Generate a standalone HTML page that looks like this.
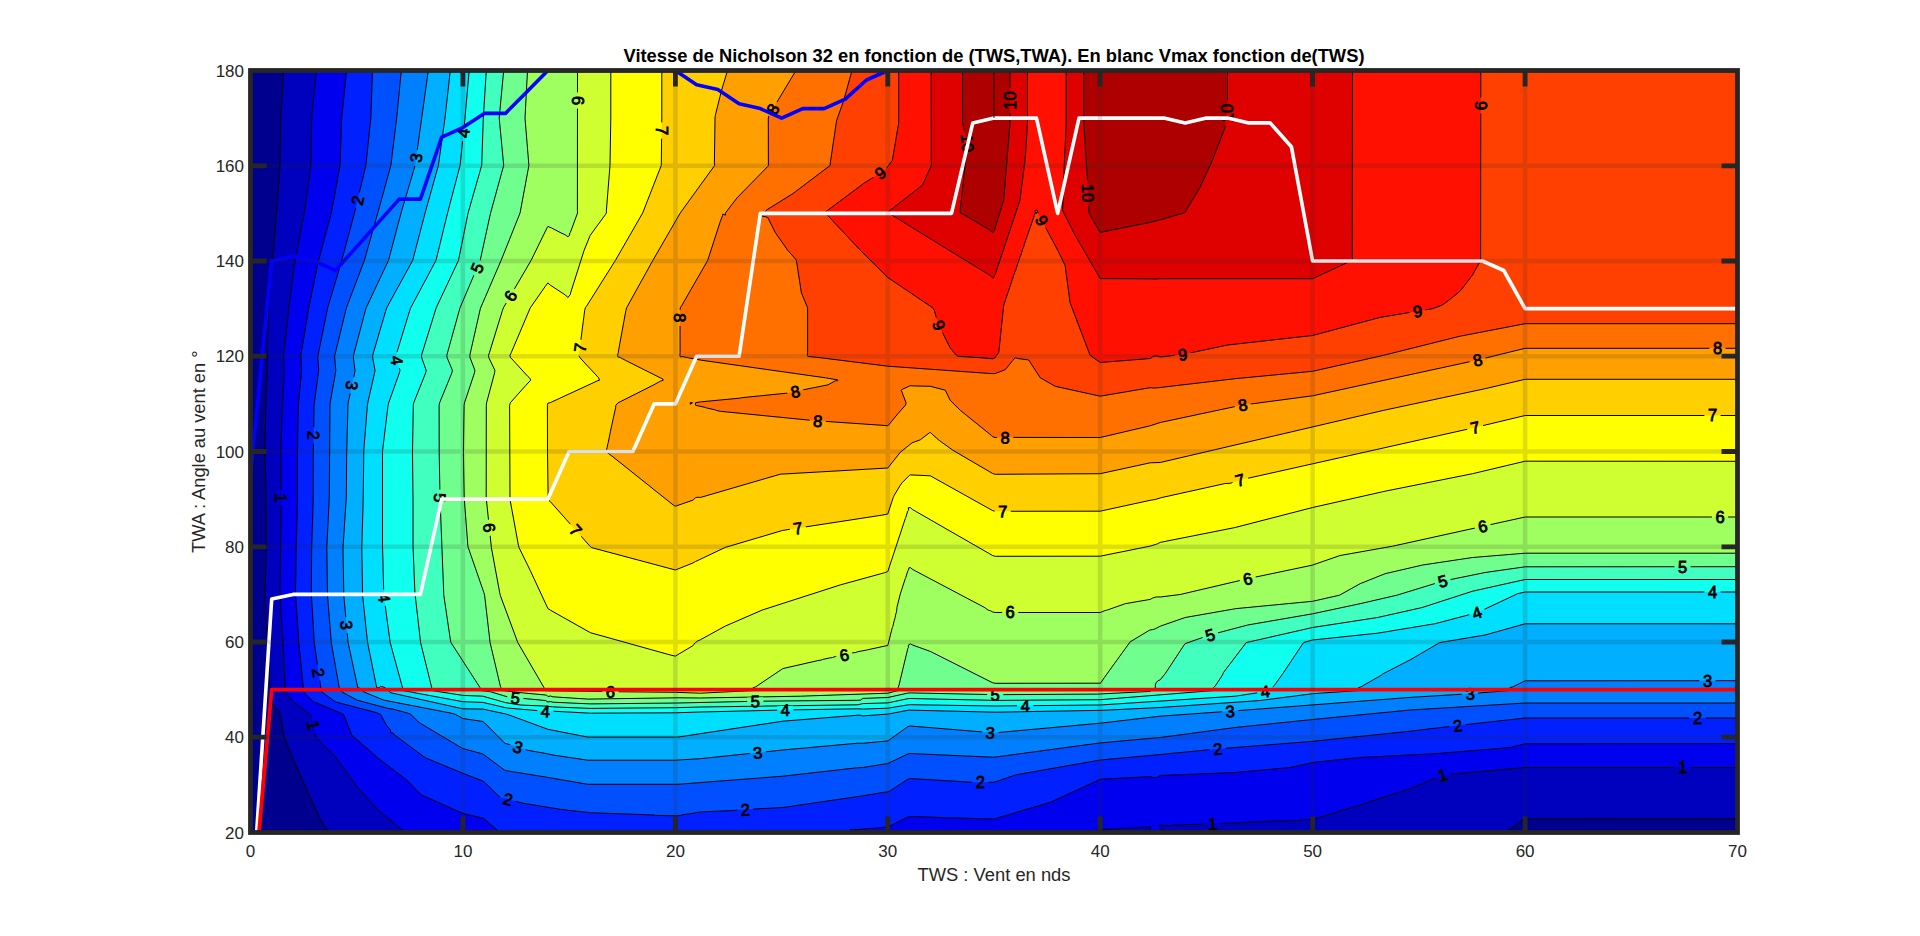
<!DOCTYPE html>
<html><head><meta charset="utf-8"><title>Vitesse de Nicholson 32</title>
<style>html,body{margin:0;padding:0;background:#fff;overflow:hidden}body{width:1920px;height:936px;position:relative}</style></head>
<body>
<svg width="1920" height="936" viewBox="0 0 1920 936" style="position:absolute;left:0;top:0">
<defs><clipPath id="c"><rect x="250.5" y="70.5" width="1487.0" height="762.0"/></clipPath></defs>
<mask id="lm" maskUnits="userSpaceOnUse" x="0" y="0" width="1920" height="936"><rect x="0" y="0" width="1920" height="936" fill="#fff"/><rect transform="translate(357.5,200.4) rotate(-76.5)" x="-8.1" y="-4" width="16.2" height="8" fill="#000"/><rect transform="translate(416.1,157.9) rotate(-82)" x="-8.1" y="-4" width="16.2" height="8" fill="#000"/><rect transform="translate(463.4,133) rotate(-84)" x="-8.1" y="-4" width="16.2" height="8" fill="#000"/><rect transform="translate(577.5,100.5) rotate(90)" x="-8.1" y="-4" width="16.2" height="8" fill="#000"/><rect transform="translate(661.6,130.5) rotate(90)" x="-8.1" y="-4" width="16.2" height="8" fill="#000"/><rect transform="translate(477.1,267.9) rotate(-67.2)" x="-8.1" y="-4" width="16.2" height="8" fill="#000"/><rect transform="translate(510.4,295.9) rotate(-59.7)" x="-8.1" y="-4" width="16.2" height="8" fill="#000"/><rect transform="translate(397,360.3) rotate(83.1)" x="-8.1" y="-4" width="16.2" height="8" fill="#000"/><rect transform="translate(352,385.3) rotate(98)" x="-8.1" y="-4" width="16.2" height="8" fill="#000"/><rect transform="translate(313.6,435.3) rotate(91)" x="-8.1" y="-4" width="16.2" height="8" fill="#000"/><rect transform="translate(579.9,347.8) rotate(-82.6)" x="-8.1" y="-4" width="16.2" height="8" fill="#000"/><rect transform="translate(680,317.8) rotate(89.7)" x="-8.1" y="-4" width="16.2" height="8" fill="#000"/><rect transform="translate(281.2,497.7) rotate(89.8)" x="-8.1" y="-4" width="16.2" height="8" fill="#000"/><rect transform="translate(440,497.7) rotate(88.6)" x="-8.1" y="-4" width="16.2" height="8" fill="#000"/><rect transform="translate(489.3,527.7) rotate(84)" x="-8.1" y="-4" width="16.2" height="8" fill="#000"/><rect transform="translate(575.8,530.2) rotate(48.3)" x="-8.1" y="-4" width="16.2" height="8" fill="#000"/><rect transform="translate(384.2,597.7) rotate(84.6)" x="-8.1" y="-4" width="16.2" height="8" fill="#000"/><rect transform="translate(346.5,625.1) rotate(84.9)" x="-8.1" y="-4" width="16.2" height="8" fill="#000"/><rect transform="translate(318.6,672.6) rotate(81.8)" x="-8.1" y="-4" width="16.2" height="8" fill="#000"/><rect transform="translate(313.5,725.1) rotate(79.2)" x="-8.1" y="-4" width="16.2" height="8" fill="#000"/><rect transform="translate(515.4,697.7) rotate(5.2)" x="-8.1" y="-4" width="16.2" height="8" fill="#000"/><rect transform="translate(610.4,691.7) rotate(0.8)" x="-8.1" y="-4" width="16.2" height="8" fill="#000"/><rect transform="translate(545.4,711.3) rotate(3)" x="-8.1" y="-4" width="16.2" height="8" fill="#000"/><rect transform="translate(517.9,747.1) rotate(17.8)" x="-8.1" y="-4" width="16.2" height="8" fill="#000"/><rect transform="translate(507.9,799.2) rotate(14.7)" x="-8.1" y="-4" width="16.2" height="8" fill="#000"/><rect transform="translate(772.8,109.1) rotate(-58.8)" x="-8.1" y="-4" width="16.2" height="8" fill="#000"/><rect transform="translate(880.3,173) rotate(-35.8)" x="-8.1" y="-4" width="16.2" height="8" fill="#000"/><rect transform="translate(1010,100.5) rotate(-90)" x="-12.7" y="-4" width="25.4" height="8" fill="#000"/><rect transform="translate(967.5,143) rotate(84.7)" x="-12.7" y="-4" width="25.4" height="8" fill="#000"/><rect transform="translate(1041.8,220.4) rotate(61.9)" x="-8.1" y="-4" width="16.2" height="8" fill="#000"/><rect transform="translate(1088,192.9) rotate(87.8)" x="-12.7" y="-4" width="25.4" height="8" fill="#000"/><rect transform="translate(938.9,325.3) rotate(67.6)" x="-8.1" y="-4" width="16.2" height="8" fill="#000"/><rect transform="translate(795.3,391.5) rotate(-11.4)" x="-8.1" y="-4" width="16.2" height="8" fill="#000"/><rect transform="translate(817.8,420.9) rotate(4.3)" x="-8.1" y="-4" width="16.2" height="8" fill="#000"/><rect transform="translate(1005.2,437.5) rotate(0.2)" x="-8.1" y="-4" width="16.2" height="8" fill="#000"/><rect transform="translate(797.8,528.1) rotate(-8.8)" x="-8.1" y="-4" width="16.2" height="8" fill="#000"/><rect transform="translate(1002.7,511.2) rotate(-0.3)" x="-8.1" y="-4" width="16.2" height="8" fill="#000"/><rect transform="translate(1010.2,612.5) rotate(0)" x="-8.1" y="-4" width="16.2" height="8" fill="#000"/><rect transform="translate(844.2,655.1) rotate(-11.9)" x="-8.1" y="-4" width="16.2" height="8" fill="#000"/><rect transform="translate(755.3,701.3) rotate(-1)" x="-8.1" y="-4" width="16.2" height="8" fill="#000"/><rect transform="translate(785.3,710) rotate(-1.3)" x="-8.1" y="-4" width="16.2" height="8" fill="#000"/><rect transform="translate(995.2,694.7) rotate(0.5)" x="-8.1" y="-4" width="16.2" height="8" fill="#000"/><rect transform="translate(1025.2,705.7) rotate(-0.5)" x="-8.1" y="-4" width="16.2" height="8" fill="#000"/><rect transform="translate(757.8,752.6) rotate(-6.1)" x="-8.1" y="-4" width="16.2" height="8" fill="#000"/><rect transform="translate(990.3,732.6) rotate(3.8)" x="-8.1" y="-4" width="16.2" height="8" fill="#000"/><rect transform="translate(745.3,809.5) rotate(-3.1)" x="-8.1" y="-4" width="16.2" height="8" fill="#000"/><rect transform="translate(980.3,782.3) rotate(-0)" x="-8.1" y="-4" width="16.2" height="8" fill="#000"/><rect transform="translate(1226.6,113) rotate(-90)" x="-12.7" y="-4" width="25.4" height="8" fill="#000"/><rect transform="translate(1480.8,105.5) rotate(90)" x="-8.1" y="-4" width="16.2" height="8" fill="#000"/><rect transform="translate(1417.6,311.2) rotate(-9.2)" x="-8.1" y="-4" width="16.2" height="8" fill="#000"/><rect transform="translate(1182.7,354.5) rotate(-8.6)" x="-8.1" y="-4" width="16.2" height="8" fill="#000"/><rect transform="translate(1242.7,405) rotate(-10.1)" x="-8.1" y="-4" width="16.2" height="8" fill="#000"/><rect transform="translate(1477.6,360) rotate(-12.9)" x="-8.1" y="-4" width="16.2" height="8" fill="#000"/><rect transform="translate(1475.1,427.5) rotate(-12.9)" x="-8.1" y="-4" width="16.2" height="8" fill="#000"/><rect transform="translate(1240.2,480) rotate(-15.6)" x="-8.1" y="-4" width="16.2" height="8" fill="#000"/><rect transform="translate(1482.6,526.2) rotate(-12.4)" x="-8.1" y="-4" width="16.2" height="8" fill="#000"/><rect transform="translate(1247.7,578.7) rotate(-12.5)" x="-8.1" y="-4" width="16.2" height="8" fill="#000"/><rect transform="translate(1442.6,581.2) rotate(-14.8)" x="-8.1" y="-4" width="16.2" height="8" fill="#000"/><rect transform="translate(1210.2,635) rotate(-17.5)" x="-8.1" y="-4" width="16.2" height="8" fill="#000"/><rect transform="translate(1477,612.6) rotate(-19.2)" x="-8.1" y="-4" width="16.2" height="8" fill="#000"/><rect transform="translate(1265.2,691.6) rotate(-8.5)" x="-8.1" y="-4" width="16.2" height="8" fill="#000"/><rect transform="translate(1470.1,693.7) rotate(-4)" x="-8.1" y="-4" width="16.2" height="8" fill="#000"/><rect transform="translate(1230.2,711.2) rotate(-4.2)" x="-8.1" y="-4" width="16.2" height="8" fill="#000"/><rect transform="translate(1457.6,725.5) rotate(-6.6)" x="-8.1" y="-4" width="16.2" height="8" fill="#000"/><rect transform="translate(1217.7,748.9) rotate(-5.3)" x="-8.1" y="-4" width="16.2" height="8" fill="#000"/><rect transform="translate(1442.6,775) rotate(-16.2)" x="-8.1" y="-4" width="16.2" height="8" fill="#000"/><rect transform="translate(1212.7,823.7) rotate(-2.1)" x="-8.1" y="-4" width="16.2" height="8" fill="#000"/><rect transform="translate(1717.5,348.3) rotate(0)" x="-8.1" y="-4" width="16.2" height="8" fill="#000"/><rect transform="translate(1712.5,415.5) rotate(0)" x="-8.1" y="-4" width="16.2" height="8" fill="#000"/><rect transform="translate(1720,517) rotate(0)" x="-8.1" y="-4" width="16.2" height="8" fill="#000"/><rect transform="translate(1682.5,566.7) rotate(0)" x="-8.1" y="-4" width="16.2" height="8" fill="#000"/><rect transform="translate(1712.5,592) rotate(0)" x="-8.1" y="-4" width="16.2" height="8" fill="#000"/><rect transform="translate(1707.5,680.7) rotate(0)" x="-8.1" y="-4" width="16.2" height="8" fill="#000"/><rect transform="translate(1697.5,718) rotate(0)" x="-8.1" y="-4" width="16.2" height="8" fill="#000"/><rect transform="translate(1682.5,767.5) rotate(0)" x="-8.1" y="-4" width="16.2" height="8" fill="#000"/></mask>
<g clip-path="url(#c)">
<rect x="250.5" y="70.5" width="1487.0" height="762.0" fill="#00008F"/>
<path d="M283.7,70.5 1737.5,70.5 1737.5,818.7 1525.1,818.8 1523,820 1505,832.5 328.3,832.5 328,831.6 319.6,817.5 310.3,797.5 294.7,762.5 284.5,737.6 283.9,735.1 280.3,715.1 279.6,712.6 272.2,702.6 271.5,700.1 270.9,692.6 270,687.6 265,595.2 266.3,545.2 266.3,500.2 265,450.3 265.8,405.3 267.2,370.3 267.2,355.3 268.7,307.8 272.6,260.4 276.7,212.9 280,165.4 280.8,118 283.7,70.5Z" fill="#0000BF" fill-rule="evenodd"/>
<path d="M316.3,70.5 1737.5,70.5 1737.5,767.5 1525.1,767.5 1442.6,775 1410.1,788.7 1405.8,790 1405.1,790.4 1398.1,792.5 1390.6,795 1390.1,795.4 1387.6,796 1360.1,805 1312.6,819.5 1300.8,820 1300.1,820.4 1270.2,821.3 1240.5,822.5 1240.2,822.8 1237.7,822.9 1174.4,825 1172.7,825.6 1165.2,825.5 1162.7,825.8 1160.2,825 1159.9,827.5 1160.2,828.6 1162.4,830 1162.7,830.8 1163.9,832.5 1148.2,832.5 1149.7,830 1150.2,829.8 1150.9,827.5 1150.2,827.1 1140.4,827.5 1140.2,827.7 1137.7,827.9 1125.2,828.3 1100.2,829.6 1100,830 1100.2,830.7 1103.7,832.5 404.9,832.5 402.9,830.6 378.4,810 357.5,787.5 336,757.5 316.6,737.6 315.5,735.2 312.1,717.6 310.9,715.1 293,701.3 285.5,692.5 284.7,690.1 285.4,687.6 283,642.6 280,592.7 281.2,500.2 280.9,450.3 282.4,405.3 284.1,372.8 283.7,355.3 288.8,307.8 294.7,262.9 304.4,212.9 310.9,165.4 311.7,118 316.3,70.5Z" fill="#0000EF" fill-rule="evenodd"/>
<path d="M346.6,70.5 1737.5,70.5 1737.5,743.7 1525.1,743.8 1510.1,747.5 1479.4,750.1 1435.1,753.7 1359.4,757.5 1312.5,762.5 1290.2,767.5 1235.2,772.5 1160.2,775.5 1157.7,777 1155.2,777.5 1152.7,777.4 1150.2,776.6 1100.2,779.3 1050.2,802.4 1015.8,812.5 1015.2,812.9 998.6,817.5 997.7,818 995.2,818.7 992.8,819 957.8,818 945.3,817.9 942.6,817.5 910.3,816.5 906.7,817.5 887.8,827 881.1,827.5 880.3,827.9 877.8,827.9 852.8,829.9 850.3,829.8 850.1,830 850.3,830.4 852.8,830.8 854.7,832.5 499.9,832.5 485.5,820 482.9,818 480.4,817.8 480,817.5 462.9,813.4 422.9,795.6 421.8,795 420.4,793.9 406.7,780 378,758 351.8,735.1 343.8,715.1 343,713.9 340.5,713.1 339.7,712.6 313,701.4 304.1,692.6 302.9,690.1 303.3,687.6 298.8,642.6 295.5,592.7 296.2,547.7 297.5,500.2 297.5,452.7 298.3,405.3 301.7,370.3 300.9,357.8 300.9,355.3 308.8,307.8 318,262.7 331.4,212.9 340,165.4 341.7,118 346.6,70.5Z" fill="#0020FF" fill-rule="evenodd"/>
<path d="M372.5,70.5 1737.5,70.5 1737.5,718 1525.1,718 1457.6,725.5 1410.1,731.2 1312.6,741.3 1217.7,748.9 1160.2,754.5 1100.2,760 1017.7,774.5 1015.3,775 995.2,781.9 992.8,782.3 972.8,782.3 910.3,778.5 907.8,779.2 890.3,790.7 887.8,792 885.3,792.1 860.3,796.2 782.8,807.5 736.3,810 735.3,810.4 700.3,812 696.4,812.5 695.4,812.9 681.5,815 680.4,815.4 677.9,815.8 655.4,815.4 654.6,815 592.9,812.8 590.4,812.9 589.6,812.5 567.9,810.3 567.3,810 560.4,809.3 522.9,803.2 500.4,797.3 497.9,795.3 484.8,782.5 482.9,781 462.9,773.3 425.4,757.8 395.5,735.7 393,733 390.5,732.6 390.6,730.1 386.3,725.1 380.5,714.3 376.3,712.6 335.5,701.9 322.7,692.6 320.9,690.1 320.8,687.6 314.3,642.6 311.3,592.7 311.7,547.7 313.2,500.2 313.3,452.7 314.1,405.3 318.7,370.3 317.9,357.8 318,355.3 327.7,307.8 341.8,260.4 354.5,212.9 365.9,165.4 370.8,118 372.5,70.5Z" fill="#0050FF" fill-rule="evenodd"/>
<path d="M401.3,70.5 1737.5,70.5 1737.5,703 1525.1,703 1409.1,710.1 1312.6,719.5 1235.2,727.5 1160.2,737.5 1100.2,742.9 995.2,757.1 992.8,757.2 910.3,753.5 907.8,754 887.8,763.5 862.8,767.5 857.8,767.7 782.8,776.2 677.9,784.3 587.9,784.3 545.4,777 505.4,770.5 504.4,770 482.9,754 462.9,748.5 461.1,747.6 420.4,723.3 417.9,721.4 410.4,714.1 407.9,713.2 393,709.1 388,708.4 357,700.1 343,692.5 340.5,690.4 339.2,687.6 331.3,642.6 327.5,595.2 326.8,547.7 329.3,497.7 330,405.3 330.2,402.8 335.5,372.8 335.8,370.3 334.7,357.8 334.8,355.3 346.4,307.8 364.4,260.4 377.8,212.9 390.9,165.4 396.7,118 401.3,70.5Z" fill="#0080FF" fill-rule="evenodd"/>
<path d="M428.3,70.5 1737.5,70.5 1737.5,680.7 1525.1,680.8 1512.6,686.9 1510.1,687.5 1509.9,687.6 1510.3,690.1 1507.6,690.7 1470.1,693.7 1410.1,697.4 1245.2,710.1 1160.2,716.2 1100.2,723.2 995.2,732.8 992.8,732.8 910.3,726 907.8,726.7 887.8,740.9 862.8,743.3 857.8,743.2 782.8,750 700.3,758.7 675.4,760.2 587.9,760.2 553.4,755.1 545.4,753.4 527.9,750.3 510.4,744.7 505.4,743.5 504.2,742.6 484.4,722.6 482.9,721.5 462.9,718.5 455.4,714.4 452.9,713.5 383.7,700.1 365.5,692.6 363,691.4 360.5,688.5 357.8,687.6 348.1,642.6 343.8,595.2 343,547.7 346.3,497.7 346.7,452.7 348,404.9 348.2,402.8 354.7,372.8 355,370.3 353.4,357.8 353.5,355.3 365.5,310 366.2,307.8 388.5,260.4 401.1,212.9 415.1,165.4 428.3,70.5Z" fill="#00AFFF" fill-rule="evenodd"/>
<path d="M450.3,70.5 1737.5,70.5 1737.5,623.8 1525.1,623.8 1485.1,635 1439.7,642.6 1410.1,659.9 1385.1,672.7 1382.6,674.1 1381.5,675.1 1360.1,687.3 1358.4,687.6 1359.1,690.1 1357.6,690.6 1312.6,693.7 1260.2,700.5 1160.2,707.5 1102.7,710.3 995.2,712.2 908.8,710.1 887.8,714.1 862.8,715.9 860.3,715.2 857.8,715.2 782.8,721.2 677.9,737.1 587.9,737.1 547.9,729.3 509.4,715.1 505.4,713.9 482.9,709.1 462.9,708.8 460.4,708.3 390.5,692.7 388,690.1 385.5,688.1 383,686.9 380.5,686.4 379.2,687.6 378,687.9 376.7,687.6 367.6,642.6 367.3,640.1 362.6,595.2 361.8,547.7 363.2,500.2 363.8,450.3 367.4,405.3 368,401.8 374.6,372.8 375,370.3 372.7,357.8 372.7,355.3 385.5,311.6 386.7,307.8 412.7,260.4 425.1,212.9 438.4,165.4 445,118 450.3,70.5Z" fill="#00DFFF" fill-rule="evenodd"/>
<path d="M469.2,70.5 1737.5,70.5 1737.5,592 1525.1,592 1517.6,593.7 1477.6,612.5 1435.1,623.7 1377.6,633.2 1312.6,640 1305.1,642.1 1303.7,642.6 1302.6,644 1282.7,673.8 1274.6,685.1 1272.4,687.6 1272.7,688.4 1272.7,690.2 1270.2,690.9 1235.2,696.2 1100.2,705 995.2,706 910.3,704.7 907.8,704.9 887.8,708.2 862.8,709.1 857.8,708.8 785.3,710 700.3,712 675.4,712.8 590.4,713.2 552.9,711.2 545.4,711.3 507.9,708.1 505.4,707.7 482.9,702.4 462.9,701.7 413.8,692.6 412.9,692.3 402.9,690.6 402.2,690.1 402.5,687.6 390.2,642.6 383.8,595.2 382.5,545.2 382.5,452.7 382.6,450.3 388.1,405.3 388.7,402.8 399.4,372.8 400,370.3 396.2,357.8 396,355.3 410.4,308.4 436,260.4 447.6,212.9 460.1,165.4 465,118 469.2,70.5Z" fill="#10FFEF" fill-rule="evenodd"/>
<path d="M486.3,70.5 1737.5,70.5 1737.5,579.5 1525.1,579.5 1472.6,591.2 1421.9,607.6 1377.6,617.5 1312.6,627.5 1246.2,642.6 1223.4,672.6 1222.4,675.1 1220.8,677.6 1215.2,686 1213.6,687.6 1214.1,690.1 1212.7,690.6 1100.2,699.7 995.2,700.4 910.3,698.5 907.8,698.7 887.8,702.9 862.8,703.6 857.8,704.8 700.3,707 675.4,707.7 590.4,708.4 552.9,706.9 545.4,706.1 520.4,705 505.4,702.6 482.9,696.2 462.9,695.4 432.9,690.7 431.1,690.1 431.7,687.6 420.6,642.6 414.9,592.7 413,545.2 413,500.2 412.5,452.7 413.3,405.3 413.7,402.8 425.7,372.8 426.2,370.3 421.7,357.8 421.5,355.3 436.2,307.8 458.5,260.4 468.1,212.9 481.7,165.4 483.3,118 486.3,70.5Z" fill="#40FFBF" fill-rule="evenodd"/>
<path d="M503.7,70.5 1737.5,70.5 1737.5,566.7 1525.1,566.8 1485.1,572.5 1442.6,581.2 1396.9,595.2 1360.1,603.7 1312.6,613.8 1247.7,625 1209.5,635.1 1185.2,643.6 1184,645.1 1165.2,673.7 1160.2,679.8 1157.7,680.9 1156.2,682.6 1155.3,685.1 1155.4,687.6 1150.2,691.4 1097.7,694.1 995.2,694.7 910.3,692.9 907.8,693.1 887.8,697.5 862.8,698.4 860.5,700.1 857.8,700.3 757.8,701.2 677.9,703 590.4,703.9 552.9,702.2 550.4,701.5 547.9,702 545.4,700.5 507.9,697 490.4,691.7 480.4,690.5 479.7,690.1 480,687.6 451,642.6 450.4,640 443.8,595.2 440,497.7 439.2,452.7 439.1,405.3 439.6,402.8 451.9,372.8 452.4,370.3 447.2,357.8 446.8,355.3 460,307.8 480.2,260.4 490.4,213.7 503.7,165.4 499.2,118 503.7,70.5Z" fill="#70FF8F" fill-rule="evenodd"/>
<path d="M527.5,70.5 1737.5,70.5 1737.5,553.2 1525.1,553.2 1472.6,557.5 1422.6,565 1385.1,573.7 1360.1,583.7 1339.5,595.2 1312.6,601.3 1235.2,608.7 1232.7,609.2 1185.2,617.5 1160.2,626.2 1155.2,628.8 1152.7,629.6 1149.7,630.1 1130.2,641.8 1104.3,677.6 1101,682.6 1100.2,683.2 995.2,683.3 992.3,682.6 930.3,651.4 912.8,645.1 910.3,643.9 908.3,645.1 908.4,647.6 907.8,648.5 899,685.1 898.1,687.6 898.4,690.1 897.8,690.6 887.8,693.2 800.3,696.2 700.3,698 677.9,697.8 587.9,699.1 552.9,696.8 550.4,696 547.9,696.5 546.6,695.1 522.9,692.9 500.4,690.3 500.2,690.1 500.4,688.3 500.9,687.6 500.4,686.3 490.1,642.6 484.6,595.2 483.9,592.7 468.3,547.7 467.8,545.2 464.2,497.7 463.4,452.7 464.1,405.3 464.5,402.8 474.5,372.8 474.9,370.3 470.1,357.8 469.8,355.3 480.4,308.4 501.1,260.4 520.1,212.9 528.9,165.4 525,118 527.5,70.5Z" fill="#9FFF60" fill-rule="evenodd"/>
<path d="M577.5,70.5 1737.5,70.5 1737.5,517 1525.1,517 1392.6,546.2 1340.1,555.5 1312.1,565.2 1247.7,578.7 1180.2,594.5 1160.2,597 1157.7,596.9 1155.2,597.2 1152.7,598 1150.2,599.4 1125.2,603.7 1107.7,609.9 1105.2,610.5 1100.2,612.5 995.2,612.5 992.8,612 990.3,610.7 988.1,610.1 984.8,607.6 915.3,570.9 912.8,569.5 910.5,567.7 909,567.7 908.5,570.2 907.8,570.9 905.7,577.7 905.3,578.5 900.3,593.9 896.9,607.6 896.8,610.1 896.3,612.6 895.5,615.1 895.2,617.6 894.3,620.1 892.8,626.6 892.3,627.6 887.8,645.4 866.3,650.1 857.8,651.7 855.3,652.6 852.8,652.8 845.3,654.3 844.2,655.1 840.3,655.3 835.3,656.5 832.4,657.6 830.3,657.8 822.8,659.4 821,660.1 817.8,660.6 782.8,668.6 755.3,687.1 753.1,687.6 754.1,690.1 752.8,690.6 700.3,693.2 675.4,692.3 612.9,691.7 545.4,690.7 543.3,690.1 544,687.6 517.8,642.6 500.4,595.7 499.7,592.7 491.4,547.7 486.2,497.7 486.3,405.3 486.6,402.8 494.6,372.8 494.9,370.3 488.9,357.8 488.5,355.3 489.4,352.8 502.5,310.3 503.4,307.8 531.1,260.4 547,227.9 547.9,226.4 551.4,227.9 561,232.9 565.4,234.9 567.9,236.7 569.5,235.4 569.8,232.9 570.4,232.4 577.6,212.9 577.4,210.4 577.5,70.5Z" fill="#CFFF30" fill-rule="evenodd"/>
<path d="M610.8,70.5 1737.5,70.5 1737.5,461.3 1525.1,461.2 1472.6,473.7 1385.1,491.2 1312.6,507.5 1235.2,527.5 1160.2,542.4 1157.7,543.7 1155.2,544.6 1150.2,546.1 1100.2,556.2 995.2,556.3 992.8,555.6 915.3,511.1 912.8,509.7 910.5,507.7 908.3,507.7 908.6,510.2 907.8,510.9 905.7,517.7 905.3,518.5 887.8,571.5 884.7,572.7 840.3,584.9 762.1,610.1 725.3,626.1 700.3,639.8 697.8,640.9 695.3,642.6 692.9,645.7 675.4,656.1 670.7,655.1 590.4,632.7 550.3,610.1 547.9,608.5 530.1,570.2 519.1,547.7 518.4,545.2 510.4,501.6 510,497.7 509.6,405.3 510.4,402.7 525.9,385.3 530.6,380.3 530.4,379.1 529.4,377.8 527.9,376.5 512.9,360 510.7,357.8 509.9,355.3 511.2,352.8 530.3,307.8 545.4,286.2 547.9,282.9 550.4,285.2 565.4,295 567.9,297.5 570.4,294.4 570.6,292.9 584.1,250.4 590.2,235.4 605.4,214.6 606.4,212.9 606.4,210.4 610,165.4 610.8,118 610.8,70.5Z" fill="#FFFF00" fill-rule="evenodd"/>
<path d="M661.8,70.5 1737.5,70.5 1737.5,415.5 1525.1,415.5 1475.1,427.5 1240.2,480 1230.2,483.3 1225.2,483.5 1161.2,497.7 1155.2,499.5 1150.2,500.3 1100.2,511.2 995.2,511.3 992.8,510.7 930.3,475.8 910.3,474.9 909.6,475.2 902.2,482.7 900.3,485.2 894.3,495.2 893.2,497.7 887.8,514 881.8,515.2 782.8,530.4 725.3,547.4 695.4,561.6 692.9,563 675.4,570 591.9,547.7 590.4,546.7 550.4,501.7 548.7,500.2 547.9,498 548.1,495.2 547.5,452.7 547.4,405.3 547.9,403.2 550.4,402.6 597.9,380.6 599.4,380.3 598.6,377.8 580,357.8 578.7,355.3 579.2,352.8 584.7,310.3 585.4,307.7 587.1,305.3 615.4,260.4 642.7,212.9 661.3,165.4 661.8,118 661.8,70.5Z" fill="#FFCF00" fill-rule="evenodd"/>
<path d="M727.5,70.5 1737.5,70.5 1737.5,379.3 1525.1,379.3 1485.1,388.7 1383.8,410.3 1160.2,462.5 1150.2,462.8 1100.2,473.7 995.2,474.3 992.8,473.6 952.8,450.2 939.1,440.3 932.8,434.8 930.8,432.8 930.3,432.5 929.4,432.8 920.3,439.8 912.1,442.8 900.3,452.3 887.8,468 780.3,474.2 700.3,497.5 697.8,497.2 695.4,497.8 692.9,500.2 675.4,506.2 673.5,505.2 612.9,456.8 607.4,452.7 606.3,450.3 607.1,447.8 607.9,443.4 608.2,442.8 610.4,431.5 615.6,407.8 615.8,405.3 618.1,402.8 652.9,385.3 660.4,381.2 663.2,380.3 662.9,379.1 625.4,360.3 620.6,357.8 620.4,357.5 617.9,356.9 617.6,355.3 617.9,353.6 618.3,352.8 618.6,350.3 625.9,310.3 626.6,307.8 652.9,260.3 680.3,212.9 714.7,165.4 714.4,162.9 715,118 715.3,115.5 721.5,90.5 727.5,70.5Z" fill="#FF9F00" fill-rule="evenodd"/>
<path d="M794.3,73 795.3,71.6 795.7,70.5 1737.5,70.5 1737.5,348.3 1525.1,348.3 1477.6,360 1312.6,395.8 1241.1,405.3 1160.2,422.5 1150.2,425.8 1100.2,437.5 997.7,437.4 995.2,437.6 992.8,436.7 991.2,435.3 960.3,410.3 950.2,400.3 945.3,390.2 930.3,386.3 912.8,385.9 910.3,385.7 902.8,389.1 901.1,390.3 902.4,392.8 902.8,394.4 906.1,402.8 905.4,405.3 897.8,413.8 888.4,425.3 887.8,425.7 812.8,420.5 720.3,411.3 715.8,410.3 715.3,409.9 705.8,407.8 705.3,407.4 695.6,405.3 695.4,402.8 700.3,401.9 740.3,398.1 740.8,397.8 785.3,393.3 787.8,393.2 788.3,392.8 800.3,390.6 800.7,390.3 827.8,384.9 835.3,380.8 837.8,380.7 838,380.3 837.8,379.9 825.4,377.8 702,360.3 688.3,357.8 687.9,357.5 685.4,357.3 682.9,356.5 680.4,356.9 679.9,355.3 680.1,352.8 680,310.3 680.4,307.5 681.9,305.3 707.7,260.4 720.3,221.4 722.6,215.4 722.8,214 725.3,215.2 725.5,212.9 737,197.9 767.8,166.4 768.4,165.4 768.3,118 768.9,115.5 794.3,73ZM690.1,402.8 690.4,402.5 692.5,402.8 690.4,404.3 690.1,402.8Z" fill="#FF7000" fill-rule="evenodd"/>
<path d="M852,70.5 1737.5,70.5 1737.5,323.7 1525.1,323.7 1460.1,336.2 1383.7,355.3 1312.6,371.3 1235.2,378.7 1157.7,387.8 1152.7,388 1150.2,387.7 1100.2,396.2 1055.2,386.3 1040.2,377.7 1030.5,362.8 1029.1,360.3 1027.7,359.8 1017.7,358.5 1015.4,357.8 1015.2,357.8 1012.7,360.5 1005.2,369.7 995.2,373.5 992.8,373.7 887.8,366.2 817.8,357.4 807.8,356.4 807.4,355.3 807.6,352.8 807.6,307.8 801.4,292.9 796.4,260.4 795.3,258.8 787.8,250.4 775.3,232.6 767.8,217.6 765.3,216.6 762.8,216.4 761.5,215.4 762.8,214.5 766.2,210.4 767.8,209.2 792.8,193.7 830.2,165.4 830.3,162.9 836.6,120.5 843.7,100.5 852,70.5Z" fill="#FF4000" fill-rule="evenodd"/>
<path d="M898.7,70.5 1480.8,70.5 1480.6,260.4 1472.6,274.9 1460.1,291.1 1455,295.4 1442.6,304.9 1432.6,308.7 1380.1,317.4 1312.6,335.5 1227.7,345 1182.7,354.5 1160.2,357 1157.7,356.1 1155.2,356 1152.7,356.6 1151.5,357.8 1150.2,358.5 1100.2,362.5 1090.1,355.3 1070.1,302.8 1065.1,265.4 1057.7,250.2 1037.8,212.9 1037.5,210.4 1035.2,210.2 1035.1,210.4 1035.2,212.4 1037,212.9 1035.2,213.1 1034.4,215.4 1025.2,241.7 1023.3,247.9 1022.7,248.9 1020.8,255.4 1020.2,256.3 1018.2,262.9 1017.7,263.6 1015.7,270.4 1015.2,271 1003.7,305.3 999,350.3 998.6,352.8 996.6,355.3 995,357.8 992.8,358.8 980.3,357.7 957.8,356.3 956.5,355.3 950.1,347.8 937.8,323.2 934.3,310.3 932.8,307.9 887.8,277.5 860.3,250.3 832.3,220.4 827.6,215.4 825.3,213.5 825,212.9 825.3,212.1 864.4,182.9 884.4,170.4 885.3,169.7 892.3,160.4 898.7,123 898.7,70.5Z" fill="#FF1000" fill-rule="evenodd"/>
<path d="M931.2,70.5 1027.5,70.5 1027.5,123 1025.5,155.4 1025.2,156.3 1025,160.4 1019.9,200.4 997.7,267 997.3,267.9 995.2,274.6 994.5,275.4 993.5,277.9 992.6,277.9 990.3,275.7 987.8,274.1 897.8,218.7 890.3,214.1 887.7,212.9 890.1,210.4 922,185.4 922.8,184.5 931.3,165.4 931.2,70.5ZM1066.2,70.5 1352.5,70.5 1352.3,255.4 1352.5,257.9 1352,260.4 1312.6,278.7 1160.2,278.7 1155.2,279 1150.2,278.8 1100.2,278.6 1075.2,235.4 1062.6,210.4 1064.9,147.9 1065.2,146.3 1066.2,123 1066.2,70.5Z" fill="#DF0000" fill-rule="evenodd"/>
<path d="M962.5,70.5 1010,70.5 1010,123 1003.9,197.9 1003.7,200.4 995.1,227.9 994.5,230.4 992.8,232.6 990.3,230.5 987.8,228.9 962.8,214.1 960.1,212.9 960.3,209.6 967.5,143 962.6,123 962.5,70.5ZM1083.8,70.5 1227.5,70.5 1227.5,105.5 1224.9,128 1212.3,160.4 1200.2,187.1 1185.2,212.2 1183.8,212.9 1160.2,219.9 1155.2,221 1150.2,222.4 1100.2,232.4 1088.9,212.9 1087.5,180.4 1083.8,123 1083.8,70.5Z" fill="#AF0000" fill-rule="evenodd"/>
<path d="M1737.5,818.7 1525.1,818.8 1523,820 1505,832.5M328.3,832.5 328,831.6 319.6,817.5 310.3,797.5 294.7,762.5 284.5,737.6 283.9,735.1 280.3,715.1 279.6,712.6 272.2,702.6 271.5,700.1 270.9,692.6 270,687.6 265,595.2 266.3,545.2 266.3,500.2 265,450.3 265.8,405.3 267.2,370.3 267.2,355.3 268.7,307.8 272.6,260.4 276.7,212.9 280,165.4 280.8,118 283.7,70.5M1737.5,767.5 1525.1,767.5 1442.6,775 1410.1,788.7 1405.8,790 1405.1,790.4 1398.1,792.5 1390.6,795 1390.1,795.4 1387.6,796 1360.1,805 1312.6,819.5 1300.8,820 1300.1,820.4 1270.2,821.3 1240.5,822.5 1240.2,822.8 1237.7,822.9 1174.4,825 1172.7,825.6 1165.2,825.5 1162.7,825.8 1160.2,825 1159.9,827.5 1160.2,828.6 1162.4,830 1162.7,830.8 1163.9,832.5M404.9,832.5 402.9,830.6 378.4,810 357.5,787.5 336,757.5 316.6,737.6 315.5,735.2 312.1,717.6 310.9,715.1 293,701.3 285.5,692.5 284.7,690.1 285.4,687.6 283,642.6 280,592.7 281.2,500.2 280.9,450.3 282.4,405.3 284.1,372.8 283.7,355.3 288.8,307.8 294.7,262.9 304.4,212.9 310.9,165.4 311.7,118 316.3,70.5M1148.2,832.5 1149.7,830 1150.2,829.8 1150.9,827.5 1150.2,827.1 1140.4,827.5 1140.2,827.7 1137.7,827.9 1125.2,828.3 1100.2,829.6 1100,830 1100.2,830.7 1103.7,832.5M1737.5,743.7 1525.1,743.8 1510.1,747.5 1479.4,750.1 1435.1,753.7 1359.4,757.5 1312.5,762.5 1290.2,767.5 1235.2,772.5 1160.2,775.5 1157.7,777 1155.2,777.5 1152.7,777.4 1150.2,776.6 1100.2,779.3 1050.2,802.4 1015.8,812.5 1015.2,812.9 998.6,817.5 997.7,818 995.2,818.7 992.8,819 957.8,818 945.3,817.9 942.6,817.5 910.3,816.5 906.7,817.5 887.8,827 881.1,827.5 880.3,827.9 877.8,827.9 852.8,829.9 850.3,829.8 850.1,830 850.3,830.4 852.8,830.8 854.7,832.5M499.9,832.5 485.5,820 482.9,818 480.4,817.8 480,817.5 462.9,813.4 421.8,795 420.4,793.9 406.7,780 378,758 351.8,735.1 343.8,715.1 343,713.9 340.5,713.1 339.7,712.6 313,701.4 304.1,692.6 302.9,690.1 303.3,687.6 298.8,642.6 295.5,592.7 296.2,547.7 297.5,500.2 297.5,452.7 298.3,405.3 301.7,370.3 300.9,357.8 300.9,355.3 308.8,307.8 318,262.7 331.4,212.9 340,165.4 341.7,118 346.6,70.5M1737.5,718 1525.1,718 1457.6,725.5 1410.1,731.2 1312.6,741.3 1217.7,748.9 1160.2,754.5 1100.2,760 1017.7,774.5 1015.3,775 995.2,781.9 992.8,782.3 972.8,782.3 910.3,778.5 907.8,779.2 890.3,790.7 887.8,792 885.3,792.1 860.3,796.2 782.8,807.5 736.3,810 735.3,810.4 700.3,812 696.4,812.5 695.4,812.9 681.5,815 680.4,815.4 677.9,815.8 655.4,815.4 654.6,815 592.9,812.8 590.4,812.9 589.6,812.5 567.9,810.3 567.3,810 560.4,809.3 522.9,803.2 500.4,797.3 497.9,795.3 484.8,782.5 482.9,781 462.9,773.3 425.4,757.8 395.5,735.7 393,733 390.5,732.6 390.6,730.1 386.3,725.1 380.5,714.3 376.3,712.6 335.5,701.9 322.7,692.6 320.9,690.1 320.8,687.6 314.3,642.6 311.3,592.7 311.7,547.7 313.2,500.2 313.3,452.7 314.1,405.3 318.7,370.3 317.9,357.8 318,355.3 327.7,307.8 341.8,260.4 354.5,212.9 365.9,165.4 370.8,118 372.5,70.5M1737.5,703 1525.1,703 1409.1,710.1 1312.6,719.5 1235.2,727.5 1160.2,737.5 1100.2,742.9 995.2,757.1 992.8,757.2 910.3,753.5 907.8,754 887.8,763.5 862.8,767.5 857.8,767.7 782.8,776.2 677.9,784.3 587.9,784.3 545.4,777 505.4,770.5 504.4,770 482.9,754 462.9,748.5 461.1,747.6 420.4,723.3 417.9,721.4 410.4,714.1 407.9,713.2 393,709.1 388,708.4 357,700.1 343,692.5 340.5,690.4 339.2,687.6 331.3,642.6 327.5,595.2 326.8,547.7 329.3,497.7 330,405.3 330.2,402.8 335.5,372.8 335.8,370.3 334.7,357.8 334.8,355.3 346.4,307.8 364.4,260.4 377.8,212.9 390.9,165.4 396.7,118 401.3,70.5M1737.5,680.7 1525.1,680.8 1512.6,686.9 1510.1,687.5 1509.9,687.6 1510.3,690.1 1507.6,690.7 1470.1,693.7 1410.1,697.4 1245.2,710.1 1160.2,716.2 1100.2,723.2 995.2,732.8 992.8,732.8 910.3,726 907.8,726.7 887.8,740.9 862.8,743.3 857.8,743.2 782.8,750 700.3,758.7 675.4,760.2 587.9,760.2 553.4,755.1 545.4,753.4 527.9,750.3 510.4,744.7 505.4,743.5 504.2,742.6 484.4,722.6 482.9,721.5 462.9,718.5 455.4,714.4 452.9,713.5 383.7,700.1 365.5,692.6 363,691.4 360.5,688.5 357.8,687.6 348.1,642.6 343.8,595.2 343,547.7 346.3,497.7 346.7,452.7 348,404.9 348.2,402.8 354.7,372.8 355,370.3 353.4,357.8 353.5,355.3 365.5,310 366.2,307.8 388.5,260.4 401.1,212.9 415.1,165.4 428.3,70.5M1737.5,623.8 1525.1,623.8 1485.1,635 1439.7,642.6 1410.1,659.9 1385.1,672.7 1382.6,674.1 1381.5,675.1 1360.1,687.3 1358.4,687.6 1359.1,690.1 1357.6,690.6 1312.6,693.7 1260.2,700.5 1160.2,707.5 1102.7,710.3 995.2,712.2 908.8,710.1 887.8,714.1 862.8,715.9 860.3,715.2 857.8,715.2 782.8,721.2 677.9,737.1 587.9,737.1 547.9,729.3 509.4,715.1 505.4,713.9 482.9,709.1 462.9,708.8 460.4,708.3 390.5,692.7 388,690.1 385.5,688.1 383,686.9 380.5,686.4 379.2,687.6 378,687.9 376.7,687.6 367.6,642.6 367.3,640.1 362.6,595.2 361.8,547.7 363.2,500.2 363.8,450.3 367.4,405.3 368,401.8 374.6,372.8 375,370.3 372.7,357.8 372.7,355.3 385.5,311.6 386.7,307.8 412.7,260.4 425.1,212.9 438.4,165.4 445,118 450.3,70.5M1737.5,592 1525.1,592 1517.6,593.7 1477.6,612.5 1435.1,623.7 1377.6,633.2 1312.6,640 1305.1,642.1 1303.7,642.6 1302.6,644 1282.7,673.8 1274.6,685.1 1272.4,687.6 1272.7,688.4 1272.7,690.2 1270.2,690.9 1235.2,696.2 1100.2,705 995.2,706 910.3,704.7 907.8,704.9 887.8,708.2 862.8,709.1 857.8,708.8 785.3,710 700.3,712 675.4,712.8 590.4,713.2 552.9,711.2 545.4,711.3 507.9,708.1 505.4,707.7 482.9,702.4 462.9,701.7 413.8,692.6 412.9,692.3 402.9,690.6 402.2,690.1 402.5,687.6 390.2,642.6 383.8,595.2 382.5,545.2 382.5,452.7 382.6,450.3 388.1,405.3 388.7,402.8 399.4,372.8 400,370.3 396.2,357.8 396,355.3 410.4,308.4 436,260.4 447.6,212.9 460.1,165.4 465,118 469.2,70.5M1737.5,579.5 1525.1,579.5 1472.6,591.2 1421.9,607.6 1377.6,617.5 1312.6,627.5 1246.2,642.6 1223.4,672.6 1222.4,675.1 1220.8,677.6 1215.2,686 1213.6,687.6 1214.1,690.1 1212.7,690.6 1100.2,699.7 995.2,700.4 910.3,698.5 907.8,698.7 887.8,702.9 862.8,703.6 857.8,704.8 700.3,707 675.4,707.7 590.4,708.4 552.9,706.9 545.4,706.1 520.4,705 505.4,702.6 482.9,696.2 462.9,695.4 432.9,690.7 431.1,690.1 431.7,687.6 420.6,642.6 414.9,592.7 413,545.2 413,500.2 412.5,452.7 413.3,405.3 413.7,402.8 425.7,372.8 426.2,370.3 421.7,357.8 421.5,355.3 436.2,307.8 458.5,260.4 468.1,212.9 481.7,165.4 483.3,118 486.3,70.5M1737.5,566.7 1525.1,566.8 1485.1,572.5 1442.6,581.2 1396.9,595.2 1360.1,603.7 1312.6,613.8 1247.7,625 1209.5,635.1 1185.2,643.6 1184,645.1 1165.2,673.7 1160.2,679.8 1157.7,680.9 1156.2,682.6 1155.3,685.1 1155.4,687.6 1150.2,691.4 1097.7,694.1 995.2,694.7 910.3,692.9 907.8,693.1 887.8,697.5 862.8,698.4 860.5,700.1 857.8,700.3 757.8,701.2 677.9,703 590.4,703.9 552.9,702.2 550.4,701.5 547.9,702 545.4,700.5 507.9,697 490.4,691.7 480.4,690.5 479.7,690.1 480,687.6 451,642.6 450.4,640 443.8,595.2 440,497.7 439.2,452.7 439.1,405.3 439.6,402.8 451.9,372.8 452.4,370.3 447.2,357.8 446.8,355.3 460,307.8 480.2,260.4 490.4,213.7 503.7,165.4 499.2,118 503.7,70.5M1737.5,553.2 1525.1,553.2 1472.6,557.5 1422.6,565 1385.1,573.7 1360.1,583.7 1339.5,595.2 1312.6,601.3 1235.2,608.7 1232.7,609.2 1185.2,617.5 1160.2,626.2 1155.2,628.8 1152.7,629.6 1149.7,630.1 1130.2,641.8 1104.3,677.6 1101,682.6 1100.2,683.2 995.2,683.3 992.3,682.6 930.3,651.4 912.8,645.1 910.3,643.9 908.3,645.1 908.4,647.6 907.8,648.5 899,685.1 898.1,687.6 898.4,690.1 897.8,690.6 887.8,693.2 800.3,696.2 700.3,698 677.9,697.8 587.9,699.1 552.9,696.8 550.4,696 547.9,696.5 546.6,695.1 522.9,692.9 500.4,690.3 500.2,690.1 500.4,688.3 500.9,687.6 500.4,686.3 490.1,642.6 484.6,595.2 483.9,592.7 468.3,547.7 467.8,545.2 464.2,497.7 463.4,452.7 464.1,405.3 464.5,402.8 474.5,372.8 474.9,370.3 470.1,357.8 469.8,355.3 480.4,308.4 501.1,260.4 520.1,212.9 528.9,165.4 525,118 527.5,70.5M1737.5,517 1525.1,517 1392.6,546.2 1340.1,555.5 1312.1,565.2 1247.7,578.7 1180.2,594.5 1160.2,597 1157.7,596.9 1155.2,597.2 1152.7,598 1150.2,599.4 1125.2,603.7 1107.7,609.9 1105.2,610.5 1100.2,612.5 995.2,612.5 992.8,612 990.3,610.7 988.1,610.1 984.8,607.6 915.3,570.9 912.8,569.5 910.5,567.7 909,567.7 908.5,570.2 907.8,570.9 905.7,577.7 905.3,578.5 900.3,593.9 896.9,607.6 896.8,610.1 896.3,612.6 895.5,615.1 895.2,617.6 894.3,620.1 892.8,626.6 892.3,627.6 887.8,645.4 866.3,650.1 857.8,651.7 855.3,652.6 852.8,652.8 845.3,654.3 844.2,655.1 840.3,655.3 835.3,656.5 832.4,657.6 830.3,657.8 822.8,659.4 821,660.1 817.8,660.6 782.8,668.6 755.3,687.1 753.1,687.6 754.1,690.1 752.8,690.6 700.3,693.2 675.4,692.3 612.9,691.7 545.4,690.7 543.3,690.1 544,687.6 517.8,642.6 500.4,595.7 499.7,592.7 491.4,547.7 486.2,497.7 486.3,405.3 486.6,402.8 494.6,372.8 494.9,370.3 488.9,357.8 488.5,355.3 489.4,352.8 502.5,310.3 503.4,307.8 531.1,260.4 547,227.9 547.9,226.4 551.4,227.9 561,232.9 565.4,234.9 567.9,236.7 569.5,235.4 569.8,232.9 570.4,232.4 577.6,212.9 577.4,210.4 577.5,70.5M1737.5,461.3 1525.1,461.2 1472.6,473.7 1385.1,491.2 1312.6,507.5 1235.2,527.5 1160.2,542.4 1157.7,543.7 1155.2,544.6 1150.2,546.1 1100.2,556.2 995.2,556.3 992.8,555.6 915.3,511.1 912.8,509.7 910.5,507.7 908.3,507.7 908.6,510.2 907.8,510.9 905.7,517.7 905.3,518.5 887.8,571.5 884.7,572.7 840.3,584.9 762.1,610.1 725.3,626.1 700.3,639.8 697.8,640.9 695.3,642.6 692.9,645.7 675.4,656.1 670.7,655.1 590.4,632.7 550.3,610.1 547.9,608.5 530.1,570.2 519.1,547.7 518.4,545.2 510.4,501.6 510,497.7 509.6,405.3 510.4,402.7 525.9,385.3 530.6,380.3 530.4,379.1 529.4,377.8 527.9,376.5 512.9,360 510.7,357.8 509.9,355.3 511.2,352.8 530.3,307.8 545.4,286.2 547.9,282.9 550.4,285.2 565.4,295 567.9,297.5 570.4,294.4 570.6,292.9 584.1,250.4 590.2,235.4 605.4,214.6 606.4,212.9 606.4,210.4 610,165.4 610.8,118 610.8,70.5M1737.5,415.5 1525.1,415.5 1475.1,427.5 1240.2,480 1230.2,483.3 1225.2,483.5 1161.2,497.7 1155.2,499.5 1150.2,500.3 1100.2,511.2 995.2,511.3 992.8,510.7 930.3,475.8 910.3,474.9 909.6,475.2 902.2,482.7 900.3,485.2 894.3,495.2 893.2,497.7 887.8,514 881.8,515.2 782.8,530.4 725.3,547.4 695.4,561.6 692.9,563 675.4,570 591.9,547.7 590.4,546.7 550.4,501.7 548.7,500.2 547.9,498 548.1,495.2 547.5,452.7 547.4,405.3 547.9,403.2 550.4,402.6 597.9,380.6 599.4,380.3 598.6,377.8 580,357.8 578.7,355.3 579.2,352.8 584.7,310.3 585.4,307.7 587.1,305.3 615.4,260.4 642.7,212.9 661.3,165.4 661.8,118 661.8,70.5M1737.5,379.3 1525.1,379.3 1485.1,388.7 1383.8,410.3 1160.2,462.5 1150.2,462.8 1100.2,473.7 995.2,474.3 992.8,473.6 952.8,450.2 939.1,440.3 932.8,434.8 930.8,432.8 930.3,432.5 929.4,432.8 920.3,439.8 912.1,442.8 900.3,452.3 887.8,468 780.3,474.2 700.3,497.5 697.8,497.2 695.4,497.8 692.9,500.2 675.4,506.2 673.5,505.2 612.9,456.8 607.4,452.7 606.3,450.3 607.1,447.8 607.9,443.4 608.2,442.8 610.4,431.5 615.6,407.8 615.8,405.3 618.1,402.8 652.9,385.3 660.4,381.2 663.2,380.3 662.9,379.1 625.4,360.3 620.6,357.8 620.4,357.5 617.9,356.9 617.6,355.3 617.9,353.6 618.3,352.8 618.6,350.3 625.9,310.3 626.6,307.8 652.9,260.3 680.3,212.9 714.7,165.4 714.4,162.9 715,118 715.3,115.5 721.5,90.5 727.5,70.5M1737.5,348.3 1525.1,348.3 1477.6,360 1312.6,395.8 1241.1,405.3 1160.2,422.5 1150.2,425.8 1100.2,437.5 997.7,437.4 995.2,437.6 992.8,436.7 991.2,435.3 960.3,410.3 950.2,400.3 945.3,390.2 930.3,386.3 912.8,385.9 910.3,385.7 902.8,389.1 901.1,390.3 902.4,392.8 902.8,394.4 906.1,402.8 905.4,405.3 897.8,413.8 888.4,425.3 887.8,425.7 812.8,420.5 720.3,411.3 715.8,410.3 715.3,409.9 705.8,407.8 705.3,407.4 695.6,405.3 695.4,402.8 700.3,401.9 740.3,398.1 740.8,397.8 785.3,393.3 787.8,393.2 788.3,392.8 800.3,390.6 800.7,390.3 827.8,384.9 835.3,380.8 837.8,380.7 838,380.3 837.8,379.9 825.4,377.8 702,360.3 688.3,357.8 687.9,357.5 685.4,357.3 682.9,356.5 680.4,356.9 679.9,355.3 680.1,352.8 680,310.3 680.4,307.5 681.9,305.3 707.7,260.4 720.3,221.4 722.6,215.4 722.8,214 725.3,215.2 725.5,212.9 737,197.9 767.8,166.4 768.4,165.4 768.3,118 768.9,115.5 795.3,71.6 795.7,70.5M690.1,402.8 690.4,402.5 692.5,402.8 690.4,404.3 690.1,402.8M1737.5,323.7 1525.1,323.7 1460.1,336.2 1383.7,355.3 1312.6,371.3 1235.2,378.7 1157.7,387.8 1152.7,388 1150.2,387.7 1100.2,396.2 1055.2,386.3 1040.2,377.7 1030.5,362.8 1029.1,360.3 1027.7,359.8 1017.7,358.5 1015.4,357.8 1015.2,357.8 1012.7,360.5 1005.2,369.7 995.2,373.5 992.8,373.7 887.8,366.2 817.8,357.4 807.8,356.4 807.4,355.3 807.6,352.8 807.6,307.8 801.4,292.9 796.4,260.4 795.3,258.8 787.8,250.4 775.3,232.6 767.8,217.6 765.3,216.6 762.8,216.4 761.5,215.4 762.8,214.5 766.2,210.4 767.8,209.2 792.8,193.7 830.2,165.4 830.3,162.9 836.6,120.5 843.7,100.5 852,70.5M1480.8,70.5 1480.6,260.4 1472.6,274.9 1460.8,290.4 1458.1,292.9 1445.4,302.8 1441.8,305.3 1432.6,308.7 1380.1,317.4 1312.6,335.5 1227.7,345 1182.7,354.5 1160.2,357 1157.7,356.1 1155.2,356 1152.7,356.6 1151.5,357.8 1150.2,358.5 1100.2,362.5 1090.1,355.3 1070.1,302.8 1065.1,265.4 1057.7,250.2 1037.8,212.9 1037.5,210.4 1035.2,210.2 1035.1,210.4 1035.2,212.4 1037,212.9 1035.2,213.1 1034.4,215.4 1025.2,241.7 1023.3,247.9 1022.7,248.9 1020.8,255.4 1020.2,256.3 1018.2,262.9 1017.7,263.6 1015.7,270.4 1015.2,271 1003.7,305.3 999,350.3 998.6,352.8 996.6,355.3 995,357.8 992.8,358.8 980.3,357.7 957.8,356.3 956.5,355.3 950.1,347.8 937.8,323.2 934.3,310.3 932.8,307.9 887.8,277.5 860.4,250.4 832.3,220.4 827.6,215.4 825.3,213.5 825,212.9 825.3,212.1 864.4,182.9 884.4,170.4 885.3,169.7 892.3,160.4 898.7,123 898.7,70.5M1027.5,70.5 1027.5,123 1025.5,155.4 1025.2,156.3 1025,160.4 1019.9,200.4 997.7,267 997.3,267.9 995.2,274.6 994.5,275.4 993.5,277.9 992.8,277.9 990.3,275.7 987.8,274.1 897.8,218.7 890.3,214.1 887.7,212.9 890.1,210.4 922,185.4 922.8,184.5 931.3,165.4 931.2,70.5M1352.5,70.5 1352.3,255.4 1352.5,257.9 1352,260.4 1312.6,278.7 1160.2,278.7 1155.2,279 1150.2,278.8 1100.2,278.6 1075.2,235.4 1062.6,210.4 1064.9,147.9 1065.2,146.3 1066.2,123 1066.2,70.5M1010,70.5 1010,123 1003.9,197.9 1003.7,200.4 995.1,227.9 994.5,230.4 992.8,232.6 990.3,230.5 987.8,228.9 962.8,214.1 960.1,212.9 960.3,209.6 967.5,143 962.6,123 962.5,70.5M1227.5,70.5 1227.5,105.5 1224.9,128 1212.3,160.4 1200.2,187.1 1185.2,212.2 1183.8,212.9 1160.2,219.9 1155.2,221 1150.2,222.4 1100.2,232.4 1088.9,212.9 1087.5,180.4 1083.8,123 1083.8,70.5" fill="none" stroke="#000" stroke-width="1" stroke-linejoin="round" mask="url(#lm)"/>
</g>
<g font-family="'Liberation Sans', sans-serif" font-size="16.5" fill="#000" stroke="#000" stroke-width="0.8" text-anchor="middle">
<text transform="translate(357.5,200.4) rotate(-76.5)" y="5.9">2</text>
<text transform="translate(416.1,157.9) rotate(-82)" y="5.9">3</text>
<text transform="translate(463.4,133) rotate(-84)" y="5.9">4</text>
<text transform="translate(577.5,100.5) rotate(90)" y="5.9">6</text>
<text transform="translate(661.6,130.5) rotate(90)" y="5.9">7</text>
<text transform="translate(477.1,267.9) rotate(-67.2)" y="5.9">5</text>
<text transform="translate(510.4,295.9) rotate(-59.7)" y="5.9">6</text>
<text transform="translate(397,360.3) rotate(83.1)" y="5.9">4</text>
<text transform="translate(352,385.3) rotate(98)" y="5.9">3</text>
<text transform="translate(313.6,435.3) rotate(91)" y="5.9">2</text>
<text transform="translate(579.9,347.8) rotate(-82.6)" y="5.9">7</text>
<text transform="translate(680,317.8) rotate(89.7)" y="5.9">8</text>
<text transform="translate(281.2,497.7) rotate(89.8)" y="5.9">1</text>
<text transform="translate(440,497.7) rotate(88.6)" y="5.9">5</text>
<text transform="translate(489.3,527.7) rotate(84)" y="5.9">6</text>
<text transform="translate(575.8,530.2) rotate(48.3)" y="5.9">7</text>
<text transform="translate(384.2,597.7) rotate(84.6)" y="5.9">4</text>
<text transform="translate(346.5,625.1) rotate(84.9)" y="5.9">3</text>
<text transform="translate(318.6,672.6) rotate(81.8)" y="5.9">2</text>
<text transform="translate(313.5,725.1) rotate(79.2)" y="5.9">1</text>
<text transform="translate(515.4,697.7) rotate(5.2)" y="5.9">5</text>
<text transform="translate(610.4,691.7) rotate(0.8)" y="5.9">6</text>
<text transform="translate(545.4,711.3) rotate(3)" y="5.9">4</text>
<text transform="translate(517.9,747.1) rotate(17.8)" y="5.9">3</text>
<text transform="translate(507.9,799.2) rotate(14.7)" y="5.9">2</text>
<text transform="translate(772.8,109.1) rotate(-58.8)" y="5.9">8</text>
<text transform="translate(880.3,173) rotate(-35.8)" y="5.9">9</text>
<text transform="translate(1010,100.5) rotate(-90)" y="5.9">10</text>
<text transform="translate(967.5,143) rotate(84.7)" y="5.9">10</text>
<text transform="translate(1041.8,220.4) rotate(61.9)" y="5.9">9</text>
<text transform="translate(1088,192.9) rotate(87.8)" y="5.9">10</text>
<text transform="translate(938.9,325.3) rotate(67.6)" y="5.9">9</text>
<text transform="translate(795.3,391.5) rotate(-11.4)" y="5.9">8</text>
<text transform="translate(817.8,420.9) rotate(4.3)" y="5.9">8</text>
<text transform="translate(1005.2,437.5) rotate(0.2)" y="5.9">8</text>
<text transform="translate(797.8,528.1) rotate(-8.8)" y="5.9">7</text>
<text transform="translate(1002.7,511.2) rotate(-0.3)" y="5.9">7</text>
<text transform="translate(1010.2,612.5) rotate(0)" y="5.9">6</text>
<text transform="translate(844.2,655.1) rotate(-11.9)" y="5.9">6</text>
<text transform="translate(755.3,701.3) rotate(-1)" y="5.9">5</text>
<text transform="translate(785.3,710) rotate(-1.3)" y="5.9">4</text>
<text transform="translate(995.2,694.7) rotate(0.5)" y="5.9">5</text>
<text transform="translate(1025.2,705.7) rotate(-0.5)" y="5.9">4</text>
<text transform="translate(757.8,752.6) rotate(-6.1)" y="5.9">3</text>
<text transform="translate(990.3,732.6) rotate(3.8)" y="5.9">3</text>
<text transform="translate(745.3,809.5) rotate(-3.1)" y="5.9">2</text>
<text transform="translate(980.3,782.3) rotate(-0)" y="5.9">2</text>
<text transform="translate(1226.6,113) rotate(-90)" y="5.9">10</text>
<text transform="translate(1480.8,105.5) rotate(90)" y="5.9">9</text>
<text transform="translate(1417.6,311.2) rotate(-9.2)" y="5.9">9</text>
<text transform="translate(1182.7,354.5) rotate(-8.6)" y="5.9">9</text>
<text transform="translate(1242.7,405) rotate(-10.1)" y="5.9">8</text>
<text transform="translate(1477.6,360) rotate(-12.9)" y="5.9">8</text>
<text transform="translate(1475.1,427.5) rotate(-12.9)" y="5.9">7</text>
<text transform="translate(1240.2,480) rotate(-15.6)" y="5.9">7</text>
<text transform="translate(1482.6,526.2) rotate(-12.4)" y="5.9">6</text>
<text transform="translate(1247.7,578.7) rotate(-12.5)" y="5.9">6</text>
<text transform="translate(1442.6,581.2) rotate(-14.8)" y="5.9">5</text>
<text transform="translate(1210.2,635) rotate(-17.5)" y="5.9">5</text>
<text transform="translate(1477,612.6) rotate(-19.2)" y="5.9">4</text>
<text transform="translate(1265.2,691.6) rotate(-8.5)" y="5.9">4</text>
<text transform="translate(1470.1,693.7) rotate(-4)" y="5.9">3</text>
<text transform="translate(1230.2,711.2) rotate(-4.2)" y="5.9">3</text>
<text transform="translate(1457.6,725.5) rotate(-6.6)" y="5.9">2</text>
<text transform="translate(1217.7,748.9) rotate(-5.3)" y="5.9">2</text>
<text transform="translate(1442.6,775) rotate(-16.2)" y="5.9">1</text>
<text transform="translate(1212.7,823.7) rotate(-2.1)" y="5.9">1</text>
<text transform="translate(1717.5,348.3) rotate(0)" y="5.9">8</text>
<text transform="translate(1712.5,415.5) rotate(0)" y="5.9">7</text>
<text transform="translate(1720,517) rotate(0)" y="5.9">6</text>
<text transform="translate(1682.5,566.7) rotate(0)" y="5.9">5</text>
<text transform="translate(1712.5,592) rotate(0)" y="5.9">4</text>
<text transform="translate(1707.5,680.7) rotate(0)" y="5.9">3</text>
<text transform="translate(1697.5,718) rotate(0)" y="5.9">2</text>
<text transform="translate(1682.5,767.5) rotate(0)" y="5.9">1</text>
</g>
<g clip-path="url(#c)" fill="none" stroke-linejoin="round">
<path d="M250.5,475.3 271.7,261 293,256.2 314.2,261 335.5,270.5 356.7,246.7 378,222.9 399.2,199.1 420.4,199.1 441.7,137.2 462.9,127.6 484.2,113.4 505.4,113.4 526.7,91.9 547.9,70.5 569.1,70.5 590.4,70.5 611.6,70.5 632.9,70.5 654.1,70.5 675.4,70.5 696.6,84.8 717.8,89.5 739.1,103.8 760.3,108.6 781.6,118.1 802.8,108.6 824.1,108.6 845.3,99.1 866.5,80 887.8,70.5" stroke="#0000FF" stroke-width="3.6"/>
<path d="M250.5,927.8 271.7,599.1 293,594.4 314.2,594.4 335.5,594.4 356.7,594.4 378,594.4 399.2,594.4 420.4,594.4 441.7,499.1 462.9,499.1 484.2,499.1 505.4,499.1 526.7,499.1 547.9,499.1 569.1,451.5 590.4,451.5 611.6,451.5 632.9,451.5 654.1,403.9 675.4,403.9 696.6,356.2 717.8,356.2 739.1,356.2 760.3,213.4 781.6,213.4 802.8,213.4 824.1,213.4 845.3,213.4 866.5,213.4 887.8,213.4 909,213.4 930.3,213.4 951.5,213.4 972.8,122.9 994,118.1 1015.2,118.1 1036.5,118.1 1057.7,213.4 1079,118.1 1100.2,118.1 1121.5,118.1 1142.7,118.1 1163.9,118.1 1185.2,122.9 1206.4,118.1 1227.7,118.1 1248.9,122.9 1270.2,122.9 1291.4,146.7 1312.6,261 1333.9,261 1355.1,261 1376.4,261 1397.6,261 1418.9,261 1440.1,261 1461.3,261 1482.6,261 1503.8,270.5 1525.1,308.6 1546.3,308.6 1567.6,308.6 1588.8,308.6 1610,308.6 1631.3,308.6 1652.5,308.6 1673.8,308.6 1695,308.6 1716.3,308.6 1737.5,308.6" stroke="#FFFFFF" stroke-width="3.6"/>
<path d="M250.5,927.8 271.7,689.6 1737.5,689.6" stroke="#FF0000" stroke-width="3.8"/>
<path d="M994,70 994,118" stroke="#000" stroke-width="0.9"/>
</g>
<path d="M462.9,70.5 V832.5 M675.4,70.5 V832.5 M887.8,70.5 V832.5 M1100.2,70.5 V832.5 M1312.6,70.5 V832.5 M1525.1,70.5 V832.5 M250.5,737.2 H1737.5 M250.5,642 H1737.5 M250.5,546.8 H1737.5 M250.5,451.5 H1737.5 M250.5,356.2 H1737.5 M250.5,261 H1737.5 M250.5,165.8 H1737.5" stroke="#262626" stroke-opacity="0.15" stroke-width="4.6" fill="none"/>
<path d="M462.9,70.5 v16 M462.9,832.5 v-16 M675.4,70.5 v16 M675.4,832.5 v-16 M887.8,70.5 v16 M887.8,832.5 v-16 M1100.2,70.5 v16 M1100.2,832.5 v-16 M1312.6,70.5 v16 M1312.6,832.5 v-16 M1525.1,70.5 v16 M1525.1,832.5 v-16 M250.5,737.2 h16 M1737.5,737.2 h-16 M250.5,642 h16 M1737.5,642 h-16 M250.5,546.8 h16 M1737.5,546.8 h-16 M250.5,451.5 h16 M1737.5,451.5 h-16 M250.5,356.2 h16 M1737.5,356.2 h-16 M250.5,261 h16 M1737.5,261 h-16 M250.5,165.8 h16 M1737.5,165.8 h-16" stroke="#262626" stroke-width="4.8" fill="none"/>
<rect x="250.5" y="70.5" width="1487.0" height="762.0" fill="none" stroke="#262626" stroke-width="4.8"/>
<g font-family="'Liberation Sans', sans-serif" font-size="17" fill="#262626">
<text x="250.5" y="856.5" text-anchor="middle">0</text>
<text x="462.9" y="856.5" text-anchor="middle">10</text>
<text x="675.4" y="856.5" text-anchor="middle">20</text>
<text x="887.8" y="856.5" text-anchor="middle">30</text>
<text x="1100.2" y="856.5" text-anchor="middle">40</text>
<text x="1312.6" y="856.5" text-anchor="middle">50</text>
<text x="1525.1" y="856.5" text-anchor="middle">60</text>
<text x="1737.5" y="856.5" text-anchor="middle">70</text>
<text x="244" y="838.5" text-anchor="end">20</text>
<text x="244" y="743.2" text-anchor="end">40</text>
<text x="244" y="648" text-anchor="end">60</text>
<text x="244" y="552.8" text-anchor="end">80</text>
<text x="244" y="457.5" text-anchor="end">100</text>
<text x="244" y="362.2" text-anchor="end">120</text>
<text x="244" y="267" text-anchor="end">140</text>
<text x="244" y="171.8" text-anchor="end">160</text>
<text x="244" y="76.5" text-anchor="end">180</text>
<text x="917.5" y="880.6" font-size="17.6" textLength="153" lengthAdjust="spacingAndGlyphs">TWS : Vent en nds</text>
<text transform="translate(205.2,553) rotate(-90)" font-size="17.6" textLength="202.5" lengthAdjust="spacingAndGlyphs">TWA : Angle au vent en °</text>
</g>
<text x="623.5" y="62" textLength="741" lengthAdjust="spacingAndGlyphs" font-family="'Liberation Sans', sans-serif" font-weight="bold" font-size="17.6" fill="#000">Vitesse de Nicholson 32 en fonction de (TWS,TWA). En blanc Vmax fonction de(TWS)</text>
</svg>
</body></html>
